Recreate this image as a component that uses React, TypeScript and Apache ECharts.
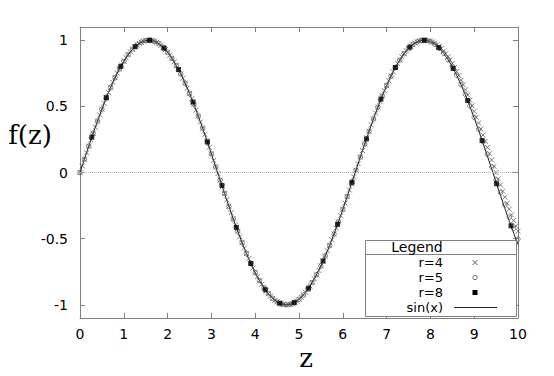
import React, { useEffect, useRef } from "react";
import * as echarts from "echarts";

// z grid with step 0.1 (sin(x) line and r=5 markers)
const z10 = [
  0, 0.1, 0.2, 0.3, 0.4, 0.5, 0.6, 0.7, 0.8, 0.9,
  1, 1.1, 1.2, 1.3, 1.4, 1.5, 1.6, 1.7, 1.8, 1.9,
  2, 2.1, 2.2, 2.3, 2.4, 2.5, 2.6, 2.7, 2.8, 2.9,
  3, 3.1, 3.2, 3.3, 3.4, 3.5, 3.6, 3.7, 3.8, 3.9,
  4, 4.1, 4.2, 4.3, 4.4, 4.5, 4.6, 4.7, 4.8, 4.9,
  5, 5.1, 5.2, 5.3, 5.4, 5.5, 5.6, 5.7, 5.8, 5.9,
  6, 6.1, 6.2, 6.3, 6.4, 6.5, 6.6, 6.7, 6.8, 6.9,
  7, 7.1, 7.2, 7.3, 7.4, 7.5, 7.6, 7.7, 7.8, 7.9,
  8, 8.1, 8.2, 8.3, 8.4, 8.5, 8.6, 8.7, 8.8, 8.9,
  9, 9.1, 9.2, 9.3, 9.4, 9.5, 9.6, 9.7, 9.8, 9.9,
  10,
];

const sinValues = [
  0, 0.1, 0.199, 0.296, 0.389, 0.479, 0.565, 0.644, 0.717, 0.783,
  0.841, 0.891, 0.932, 0.964, 0.985, 0.997, 1.0, 0.992, 0.974, 0.946,
  0.909, 0.863, 0.808, 0.746, 0.675, 0.598, 0.516, 0.427, 0.335, 0.239,
  0.141, 0.042, -0.058, -0.158, -0.256, -0.351, -0.443, -0.53, -0.612, -0.688,
  -0.757, -0.818, -0.872, -0.916, -0.952, -0.978, -0.994, -1.0, -0.996, -0.982,
  -0.959, -0.926, -0.883, -0.832, -0.773, -0.706, -0.631, -0.551, -0.465, -0.374,
  -0.279, -0.182, -0.083, 0.017, 0.117, 0.215, 0.312, 0.405, 0.494, 0.578,
  0.657, 0.729, 0.794, 0.85, 0.899, 0.938, 0.968, 0.988, 0.999, 0.999,
  0.989, 0.97, 0.941, 0.902, 0.855, 0.799, 0.734, 0.663, 0.585, 0.501,
  0.412, 0.319, 0.223, 0.125, 0.025, -0.075, -0.174, -0.272, -0.367, -0.458,
  -0.544,
];

const r5Values = [
  0, 0.1, 0.199, 0.296, 0.389, 0.479, 0.565, 0.644, 0.717, 0.783,
  0.841, 0.891, 0.932, 0.964, 0.985, 0.997, 1.0, 0.992, 0.974, 0.946,
  0.909, 0.863, 0.808, 0.746, 0.675, 0.598, 0.516, 0.427, 0.335, 0.239,
  0.141, 0.042, -0.058, -0.158, -0.256, -0.351, -0.443, -0.53, -0.612, -0.688,
  -0.757, -0.818, -0.872, -0.916, -0.952, -0.978, -0.994, -1.0, -0.996, -0.982,
  -0.959, -0.926, -0.883, -0.832, -0.773, -0.706, -0.631, -0.551, -0.465, -0.374,
  -0.279, -0.182, -0.083, 0.017, 0.117, 0.215, 0.312, 0.405, 0.494, 0.578,
  0.657, 0.729, 0.794, 0.85, 0.899, 0.938, 0.968, 0.988, 0.999, 0.999,
  0.989, 0.97, 0.941, 0.903, 0.856, 0.801, 0.737, 0.666, 0.589, 0.505,
  0.417, 0.327, 0.233, 0.138, 0.041, -0.056, -0.152, -0.246, -0.337, -0.423,
  -0.504,
];

// z grid with step 0.05 (r=4 markers)
const z05 = [
  0, 0.05, 0.1, 0.15, 0.2, 0.25, 0.3, 0.35, 0.4, 0.45,
  0.5, 0.55, 0.6, 0.65, 0.7, 0.75, 0.8, 0.85, 0.9, 0.95,
  1, 1.05, 1.1, 1.15, 1.2, 1.25, 1.3, 1.35, 1.4, 1.45,
  1.5, 1.55, 1.6, 1.65, 1.7, 1.75, 1.8, 1.85, 1.9, 1.95,
  2, 2.05, 2.1, 2.15, 2.2, 2.25, 2.3, 2.35, 2.4, 2.45,
  2.5, 2.55, 2.6, 2.65, 2.7, 2.75, 2.8, 2.85, 2.9, 2.95,
  3, 3.05, 3.1, 3.15, 3.2, 3.25, 3.3, 3.35, 3.4, 3.45,
  3.5, 3.55, 3.6, 3.65, 3.7, 3.75, 3.8, 3.85, 3.9, 3.95,
  4, 4.05, 4.1, 4.15, 4.2, 4.25, 4.3, 4.35, 4.4, 4.45,
  4.5, 4.55, 4.6, 4.65, 4.7, 4.75, 4.8, 4.85, 4.9, 4.95,
  5, 5.05, 5.1, 5.15, 5.2, 5.25, 5.3, 5.35, 5.4, 5.45,
  5.5, 5.55, 5.6, 5.65, 5.7, 5.75, 5.8, 5.85, 5.9, 5.95,
  6, 6.05, 6.1, 6.15, 6.2, 6.25, 6.3, 6.35, 6.4, 6.45,
  6.5, 6.55, 6.6, 6.65, 6.7, 6.75, 6.8, 6.85, 6.9, 6.95,
  7, 7.05, 7.1, 7.15, 7.2, 7.25, 7.3, 7.35, 7.4, 7.45,
  7.5, 7.55, 7.6, 7.65, 7.7, 7.75, 7.8, 7.85, 7.9, 7.95,
  8, 8.05, 8.1, 8.15, 8.2, 8.25, 8.3, 8.35, 8.4, 8.45,
  8.5, 8.55, 8.6, 8.65, 8.7, 8.75, 8.8, 8.85, 8.9, 8.95,
  9, 9.05, 9.1, 9.15, 9.2, 9.25, 9.3, 9.35, 9.4, 9.45,
  9.5, 9.55, 9.6, 9.65, 9.7, 9.75, 9.8, 9.85, 9.9, 9.95,
  10,
];

const r4Values = [
  0, 0.05, 0.1, 0.149, 0.199, 0.247, 0.296, 0.343, 0.389, 0.435,
  0.479, 0.523, 0.565, 0.605, 0.644, 0.682, 0.717, 0.751, 0.783, 0.813,
  0.841, 0.867, 0.891, 0.913, 0.932, 0.949, 0.964, 0.976, 0.985, 0.993,
  0.997, 1.0, 1.0, 0.997, 0.992, 0.984, 0.974, 0.961, 0.946, 0.929,
  0.909, 0.887, 0.863, 0.837, 0.808, 0.778, 0.746, 0.712, 0.675, 0.638,
  0.598, 0.558, 0.516, 0.472, 0.427, 0.382, 0.335, 0.288, 0.239, 0.19,
  0.141, 0.092, 0.042, -0.008, -0.058, -0.108, -0.158, -0.207, -0.256, -0.304,
  -0.351, -0.397, -0.443, -0.487, -0.53, -0.572, -0.612, -0.651, -0.688, -0.723,
  -0.757, -0.789, -0.818, -0.846, -0.872, -0.895, -0.916, -0.935, -0.952, -0.966,
  -0.978, -0.987, -0.994, -0.998, -1.0, -0.999, -0.996, -0.991, -0.982, -0.972,
  -0.959, -0.944, -0.926, -0.906, -0.883, -0.859, -0.832, -0.804, -0.773, -0.74,
  -0.706, -0.669, -0.631, -0.592, -0.551, -0.508, -0.465, -0.42, -0.374, -0.327,
  -0.279, -0.231, -0.182, -0.133, -0.083, -0.033, 0.017, 0.067, 0.117, 0.166,
  0.215, 0.264, 0.312, 0.359, 0.405, 0.45, 0.494, 0.537, 0.578, 0.619,
  0.657, 0.694, 0.729, 0.762, 0.794, 0.823, 0.85, 0.876, 0.899, 0.92,
  0.938, 0.954, 0.968, 0.979, 0.988, 0.995, 0.999, 1.0, 0.999, 0.996,
  0.994, 0.987, 0.978, 0.967, 0.953, 0.937, 0.918, 0.898, 0.875, 0.85,
  0.824, 0.794, 0.764, 0.732, 0.698, 0.662, 0.625, 0.586, 0.546, 0.504,
  0.462, 0.418, 0.374, 0.328, 0.283, 0.236, 0.19, 0.142, 0.095, 0.047,
  0.0, -0.048, -0.094, -0.141, -0.187, -0.233, -0.277, -0.321, -0.363, -0.404,
  -0.444,
];

// r=8 markers
const r8Z = [
  0.27, 0.6, 0.93, 1.26, 1.59, 1.92, 2.25, 2.58, 2.91, 3.24,
  3.57, 3.9, 4.23, 4.56, 4.89, 5.22, 5.55, 5.88, 6.21, 6.54,
  6.87, 7.2, 7.53, 7.86, 8.19, 8.52, 8.85, 9.18, 9.51, 9.84,
];
const r8Values = [
  0.267, 0.565, 0.802, 0.952, 1.0, 0.94, 0.778, 0.533, 0.23, -0.098,
  -0.415, -0.688, -0.886, -0.988, -0.984, -0.874, -0.669, -0.392, -0.073, 0.254,
  0.554, 0.794, 0.948, 1.0, 0.944, 0.786, 0.544, 0.242, -0.085, -0.403,
];

const yTicks = [-1, -0.5, 0, 0.5, 1];
const legendLabels = ["r=4", "r=5", "r=8", "sin(x)"];

const pair = (xs: number[], ys: number[]) => xs.map((x, i) => [x, ys[i]]);

const AXIS = "#808080";
const SANS = "DejaVu Sans";
const SERIF = "DejaVu Serif";

export default function App() {
  const ref = useRef<HTMLDivElement>(null);

  useEffect(() => {
    if (!ref.current) return;
    const chart = echarts.init(ref.current, undefined, { renderer: "svg" });

    const tickCommon = {
      axisLine: { show: true, onZero: false, lineStyle: { color: AXIS, width: 1 } },
      axisTick: { show: true, inside: true, length: 5, lineStyle: { color: AXIS, width: 1 } },
      splitLine: { show: false },
    };

    // legend geometry
    const lx = 365.5, ly = 240.5, lw = 151, lh = 76;
    const rowY = [262.5, 277.5, 292.5, 307.5];
    const symX = 475;

    chart.setOption({
      animation: false,
      backgroundColor: "#fff",
      grid: { left: 80, top: 27, width: 438, height: 291, containLabel: false },
      xAxis: [
        {
          type: "value", min: 0, max: 10, interval: 1, position: "bottom",
          ...tickCommon,
          axisLabel: { color: "#000", fontFamily: SANS, fontSize: 14, margin: 9 },
        },
        {
          type: "value", min: 0, max: 10, interval: 1, position: "top",
          ...tickCommon,
          axisLabel: { show: false },
        },
      ],
      yAxis: [
        {
          type: "value", min: -1.1, max: 1.1, position: "left",
          ...tickCommon,
          axisTick: { ...tickCommon.axisTick, customValues: yTicks },
          axisLabel: { customValues: yTicks, color: "#000", fontFamily: SANS, fontSize: 14, margin: 12 },
        },
        {
          type: "value", min: -1.1, max: 1.1, position: "right",
          ...tickCommon,
          axisTick: { ...tickCommon.axisTick, customValues: yTicks },
          axisLabel: { show: false },
        },
      ],
      series: [
        {
          name: "sin(x)", type: "line", data: pair(z10, sinValues),
          showSymbol: false, symbol: "none", z: 2,
          lineStyle: { color: "#222", width: 1 },
          markLine: {
            silent: true, symbol: "none", label: { show: false },
            lineStyle: { color: "#b0b0b0", type: [1, 1], width: 1 },
            data: [{ yAxis: 0 }],
          },
        },
        {
          name: "r=4", type: "scatter", data: pair(z05, r4Values), z: 3,
          symbol: "path://M0 0L10 10M10 0L0 10", symbolSize: 5,
          itemStyle: { color: "transparent", borderColor: "#484848", borderWidth: 0.9 },
        },
        {
          name: "r=5", type: "scatter", data: pair(z10, r5Values), z: 4,
          symbol: "circle", symbolSize: 4.5,
          itemStyle: { color: "transparent", borderColor: "#585858", borderWidth: 0.9 },
        },
        {
          name: "r=8", type: "scatter", data: pair(r8Z, r8Values), z: 5,
          symbol: "rect", symbolSize: 5,
          itemStyle: { color: "#000" },
        },
      ],
      graphic: [
        {
          type: "text", x: 30, y: 135, z: 50,
          style: { text: "f(z)", fontFamily: SERIF, fontSize: 26, fill: "#000", align: "center", verticalAlign: "middle" },
        },
        {
          type: "text", x: 306, y: 358, z: 50,
          style: { text: "z", fontFamily: SERIF, fontSize: 26, fill: "#000", align: "center", verticalAlign: "middle" },
        },
        {
          type: "group", z: 100,
          children: [
            { type: "rect", shape: { x: lx, y: ly, width: lw, height: lh }, style: { fill: "#fff", stroke: AXIS, lineWidth: 1 }, z: 100 },
            { type: "line", shape: { x1: lx, y1: 254.5, x2: lx + lw, y2: 254.5 }, style: { stroke: AXIS, lineWidth: 1 }, z: 101 },
            { type: "text", x: 417, y: 247, z: 101, style: { text: "Legend", fontFamily: SANS, fontSize: 14, lineHeight: 13, fill: "#000", align: "center", verticalAlign: "middle" } },
            ...legendLabels.map((t, i) => ({
              type: "text", x: 443, y: rowY[i], z: 101,
              style: { text: t, fontFamily: SANS, fontSize: 13, lineHeight: 13, fill: "#000", align: "right", verticalAlign: "middle" },
            })),
            { type: "line", shape: { x1: symX - 2.5, y1: rowY[0] - 2.5, x2: symX + 2.5, y2: rowY[0] + 2.5 }, style: { stroke: "#484848", lineWidth: 0.9 }, z: 101 },
            { type: "line", shape: { x1: symX - 2.5, y1: rowY[0] + 2.5, x2: symX + 2.5, y2: rowY[0] - 2.5 }, style: { stroke: "#484848", lineWidth: 0.9 }, z: 101 },
            { type: "circle", shape: { cx: symX, cy: rowY[1], r: 2.2 }, style: { fill: "transparent", stroke: "#585858", lineWidth: 0.9 }, z: 101 },
            { type: "rect", shape: { x: symX - 2.5, y: rowY[2] - 2.5, width: 5, height: 5 }, style: { fill: "#000" }, z: 101 },
            { type: "line", shape: { x1: 454, y1: rowY[3], x2: 497, y2: rowY[3] }, style: { stroke: "#222", lineWidth: 1 }, z: 101 },
          ],
        },
      ],
    });

    return () => chart.dispose();
  }, []);

  return (
    <div
      ref={ref}
      style={{ position: "fixed", left: 0, top: 0, width: 554, height: 376, background: "#fff" }}
    />
  );
}
